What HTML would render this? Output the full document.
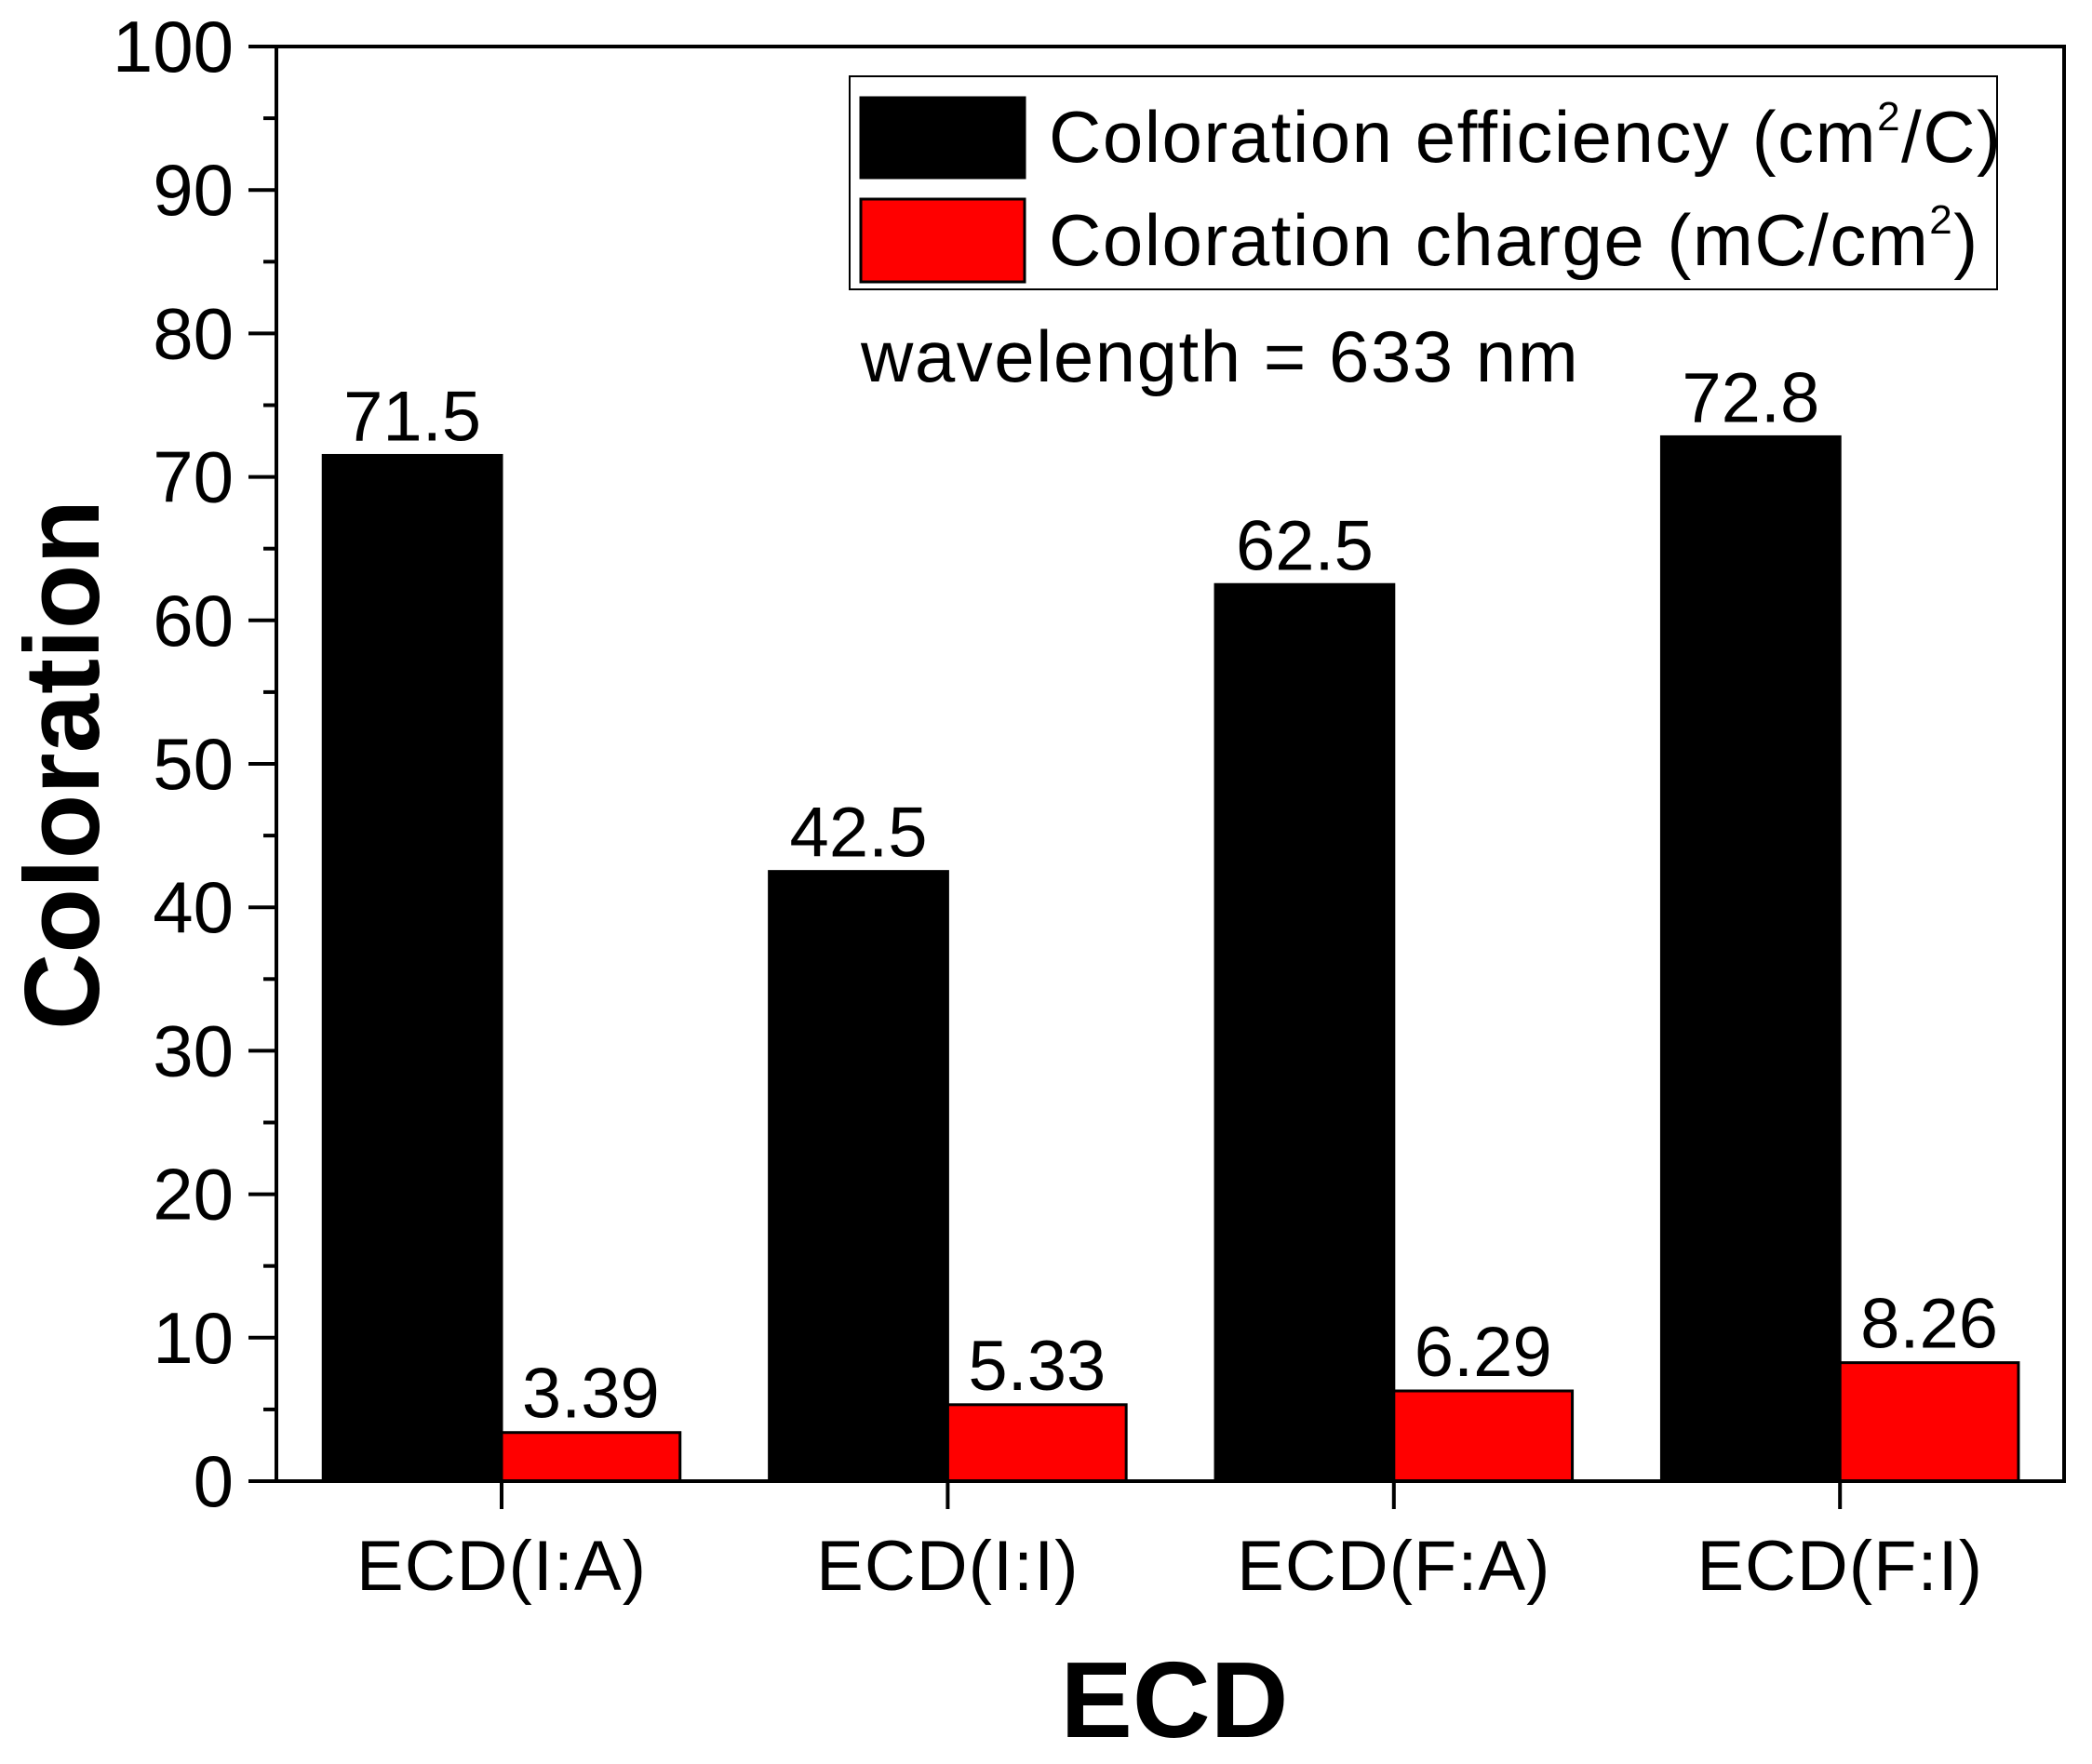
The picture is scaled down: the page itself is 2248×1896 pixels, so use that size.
<!DOCTYPE html>
<html><head><meta charset="utf-8"><style>
html,body{margin:0;padding:0;background:#fff;}
svg text{font-family:"Liberation Sans",Arial,sans-serif;fill:#000;}
</style></head><body>
<svg id="chart" width="2248" height="1891" viewBox="0 0 2248 1891" xmlns="http://www.w3.org/2000/svg">
<g id="plot"></g>
</svg>
<script>
const categories = ["ECD(I:A)","ECD(I:I)","ECD(F:A)","ECD(F:I)"];
const efficiency = [71.5, 42.5, 62.5, 72.8];
const charge = [3.39, 5.33, 6.29, 8.26];
const efficiencyLabels = ["71.5","42.5","62.5","72.8"];
const chargeLabels = ["3.39","5.33","6.29","8.26"];
const yTicks = [0,10,20,30,40,50,60,70,80,90,100];

const NS="http://www.w3.org/2000/svg";
const g=document.getElementById('plot');
const L=297,R=2218,T=50,B=1592;
const yMin=0,yMax=100;
function y(v){return B-(v-yMin)/(yMax-yMin)*(B-T);}
const step=479.4, first=539;
function xc(i){return first+step*i;}
const bw=step*0.4;
function mk(tag,attrs,txt){const e=document.createElementNS(NS,tag);for(const k in attrs)e.setAttribute(k,attrs[k]);if(txt!==undefined)e.textContent=txt;g.appendChild(e);return e;}

categories.forEach((c,i)=>{
  let b=mk('rect',{x:xc(i)-bw,y:y(efficiency[i]),width:bw,height:y(0)-y(efficiency[i]),fill:'#000',stroke:'#000','stroke-width':3});
  
  
  let r=mk('rect',{x:xc(i),y:y(charge[i]),width:bw,height:y(0)-y(charge[i]),fill:'#ff0000',stroke:'#000','stroke-width':3});
  
  
  let t1=mk('text',{x:xc(i)-bw/2,y:y(efficiency[i])-16,'font-size':76,'text-anchor':'middle'},efficiencyLabels[i]);
  
  
  let t2=mk('text',{x:xc(i)+bw/2,y:y(charge[i])-16,'font-size':76,'text-anchor':'middle'},chargeLabels[i]);
  
  
  let tk=mk('line',{x1:xc(i),x2:xc(i),y1:B,y2:B+30,stroke:'#000','stroke-width':4});
  
  
  let cl=mk('text',{x:xc(i),y:1709,'font-size':76,'text-anchor':'middle','letter-spacing':1},c);
  
  
});

yTicks.forEach((v,i)=>{
  let t=mk('line',{x1:L-30,x2:L,y1:y(v),y2:y(v),stroke:'#000','stroke-width':4});
  
  
  let lb=mk('text',{x:251,y:y(v)+27,'font-size':78,'text-anchor':'end'},String(v));
  
  
  if(i<yTicks.length-1){
    let m=mk('line',{x1:L-14,x2:L,y1:y(v+5),y2:y(v+5),stroke:'#000','stroke-width':4});
    
    
  }
});

let fr=mk('rect',{x:L,y:T,width:R-L,height:B-T,fill:'none',stroke:'#000','stroke-width':4});



let xt=mk('text',{x:1262,y:1867,'font-size':116,'font-weight':'bold','text-anchor':'middle'},'ECD');


let yt=mk('text',{x:0,y:0,'font-size':114,'font-weight':'bold','text-anchor':'middle',transform:'translate(106,822) rotate(-90)'},'Coloration');



let lg=mk('rect',{x:913,y:82,width:1233,height:229,fill:'#fff',stroke:'#000','stroke-width':2});


let s1=mk('rect',{x:925,y:105,width:176,height:86,fill:'#000',stroke:'#000','stroke-width':3});


let s2=mk('rect',{x:925,y:214,width:176,height:89,fill:'#ff0000',stroke:'#000','stroke-width':3});


let l1=mk('text',{x:1127,y:174,'font-size':78,'letter-spacing':1.5});
l1.innerHTML='Coloration efficiency (cm<tspan dy="-34" font-size="44">2</tspan><tspan dy="34">/C)</tspan>';


let l2=mk('text',{x:1127,y:285,'font-size':78,'letter-spacing':1.5});
l2.innerHTML='Coloration charge (mC/cm<tspan dy="-34" font-size="44">2</tspan><tspan dy="34">)</tspan>';


let wl=mk('text',{x:925,y:410,'font-size':78,'letter-spacing':1.5},'wavelength = 633 nm');


</script>
</body></html>
